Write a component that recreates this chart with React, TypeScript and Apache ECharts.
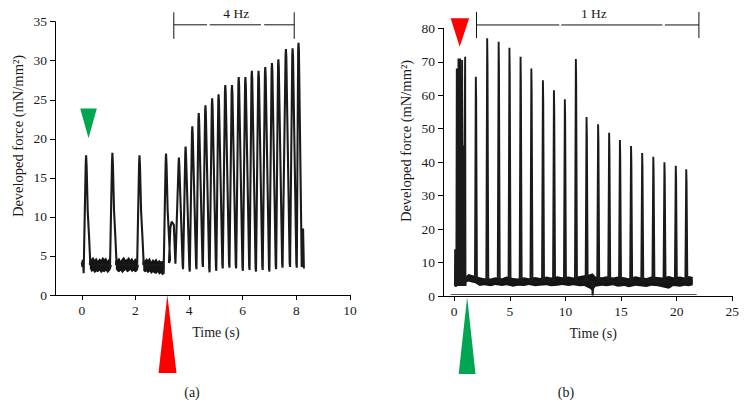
import React, { useEffect, useRef } from "react";
import * as echarts from "echarts";

const FONT = "Liberation Serif";
const TRACE = "#1a1a1a";

// ---------- Panel (a) ----------
const xTicksA = [0, 2, 4, 6, 8, 10];
const startA = [[0.0, 4.2], [0.02, 3.6], [0.03, 4.5], [0.05, 3.9], [0.07, 2.8]];
const twitchA_t = [0.16, 1.14, 2.15, 3.14];
const twitchA_v = [17.9, 18.2, 17.9, 18.1];
const twitchA_base = [3.0, 3.4, 3.3, 2.7];
const bumpA = [[3.25, 4.1], [3.3, 8.6], [3.35, 9.4], [3.43, 9.0], [3.49, 4.0]];
const peaks4_t = [3.62, 3.87, 4.12, 4.36, 4.61, 4.86, 5.1, 5.35, 5.6, 5.85, 6.1, 6.34, 6.59, 6.84, 7.09, 7.33, 7.61, 7.86, 8.08];
const peaks4_v = [17.6, 19.0, 21.6, 23.3, 24.3, 25.2, 25.7, 26.9, 26.9, 27.9, 27.9, 28.7, 28.7, 29.2, 29.7, 30.2, 31.5, 31.6, 32.3];
const troughs4_v = [3.3, 3.0, 3.3, 3.6, 2.9, 3.1, 3.4, 3.5, 3.4, 3.1, 3.2, 3.0, 3.2, 3.0, 3.3, 3.5, 3.6, 3.5];
const tailA = [[8.2, 3.6], [8.25, 8.5], [8.28, 3.4]];
const bandA_t = [
  [0.3, 0.36, 0.42, 0.48, 0.54, 0.6, 0.66, 0.72, 0.78, 0.84, 0.9, 0.96, 1.02, 1.08],
  [1.27, 1.33, 1.39, 1.45, 1.51, 1.57, 1.63, 1.69, 1.75, 1.81, 1.87, 1.93, 1.99, 2.05, 2.09],
  [2.29, 2.35, 2.41, 2.47, 2.53, 2.59, 2.65, 2.71, 2.77, 2.83, 2.89, 2.95, 3.01, 3.06],
];
const bandA_hi = [
  [5.0, 4.6, 4.9, 4.5, 4.8, 4.4, 4.7, 4.5, 4.9, 4.6, 4.8, 4.4, 4.7, 4.9],
  [4.9, 4.5, 4.8, 4.4, 4.7, 4.9, 4.5, 4.6, 4.9, 4.5, 4.8, 4.4, 4.7, 4.5, 4.8],
  [4.8, 4.4, 4.7, 4.5, 4.8, 4.3, 4.6, 4.4, 4.7, 4.3, 4.5, 4.3, 4.4, 4.2],
];
const bandA_lo = [
  [3.4, 2.9, 3.1, 2.8, 3.0, 2.9, 3.1, 2.8, 3.0, 2.9, 3.1, 2.8, 3.0, 3.3],
  [3.3, 3.0, 2.9, 3.1, 2.8, 3.0, 3.2, 2.9, 3.0, 3.2, 2.9, 3.1, 2.9, 3.0, 3.2],
  [3.1, 2.9, 3.0, 2.8, 3.0, 2.7, 2.9, 2.8, 2.7, 2.9, 2.6, 2.8, 2.5, 2.7],
];

// ---------- Panel (b) ----------
const xTicksB = [0, 5, 10, 15, 20, 25];
const burstB = [
  [0.07, 3], [0.09, 14], [0.11, 3], [0.2, 3], [0.24, 68], [0.27, 3], [0.32, 56], [0.35, 3],
  [0.39, 71], [0.42, 3], [0.47, 63], [0.5, 3], [0.54, 71], [0.57, 3], [0.63, 52], [0.66, 3],
  [0.72, 70.5], [0.75, 3], [0.82, 45], [0.85, 3], [0.99, 71.5], [1.02, 3], [1.07, 5.2],
];
const spikeB_t = [1.95, 2.97, 4.0, 4.97, 5.97, 6.94, 7.98, 8.97, 9.95, 10.94, 11.9, 12.94, 13.93, 14.9, 15.9, 16.9, 17.9, 18.9, 19.92, 20.86];
const spikeB_v = [65.5, 77, 76, 74.2, 71.5, 68, 64.5, 61.5, 58.8, 70.8, 53.5, 51.3, 48.8, 46.6, 44.8, 42.7, 41.6, 40.0, 38.9, 37.9];
const extraB = [[1.5, 5.6], [12.38, 4.5], [12.45, 0.2], [12.52, 4.0], [21.45, 4.3]];
const bandB_t = [1.08, 1.3, 1.6, 1.9, 2.3, 2.7, 3.3, 3.7, 4.3, 4.7, 5.3, 5.7, 6.3, 6.7, 7.3, 7.7, 8.3, 8.7, 9.3, 9.7, 10.3, 10.7, 11.3, 11.7, 12.2, 12.45, 12.7, 13.3, 13.7, 14.3, 14.7, 15.3, 15.7, 16.3, 16.7, 17.3, 17.7, 18.3, 18.7, 19.3, 19.7, 20.3, 20.7, 21.1, 21.45];
const bandB_hi = [6.0, 6.6, 6.3, 6.0, 5.6, 5.3, 5.2, 5.6, 5.3, 5.8, 5.4, 5.2, 5.6, 5.3, 5.7, 5.4, 5.8, 5.5, 5.9, 5.6, 5.8, 5.5, 6.0, 6.2, 6.5, 6.8, 5.8, 5.6, 5.9, 5.5, 5.8, 5.6, 5.3, 5.9, 5.6, 5.4, 5.8, 5.7, 5.5, 6.0, 5.6, 5.8, 5.5, 6.0, 5.7];
const bandB_lo = [4.0, 4.3, 4.0, 3.8, 3.0, 3.2, 2.9, 3.3, 3.0, 3.2, 2.8, 3.1, 3.0, 3.3, 2.9, 3.1, 3.2, 2.9, 3.1, 3.3, 3.0, 3.2, 2.9, 3.0, 2.2, 1.5, 2.8, 3.1, 2.9, 3.2, 2.8, 3.0, 2.6, 3.1, 2.9, 2.7, 3.1, 2.9, 2.6, 2.2, 3.0, 2.8, 3.1, 2.9, 3.2];

function buildTraceA(): number[][] {
  const pts: number[][] = [...startA];
  twitchA_t.forEach((tp, i) => {
    const p = twitchA_v[i];
    const b = twitchA_base[i];
    pts.push([tp - 0.09, b], [tp - 0.05, b + 0.5 * (p - b)], [tp - 0.015, p - 1.2], [tp, p], [tp + 0.02, p - 1.5], [tp + 0.06, 0.6 * p], [tp + 0.11, 7.5], [tp + 0.15, 4.5]);
    if (i < 3) {
      const seg = bandA_t[i];
      pts.push([seg[0], 3.9], [seg[seg.length - 1], 3.8]);
    }
  });
  pts.push(...bumpA);
  peaks4_t.forEach((tp, i) => {
    pts.push([tp - 0.012, peaks4_v[i] - 0.8], [tp, peaks4_v[i]], [tp + 0.015, peaks4_v[i] - 1.0]);
    if (i < troughs4_v.length) pts.push([tp + 0.14, troughs4_v[i] + 0.5], [tp + 0.155, troughs4_v[i]]);
  });
  pts.push(...tailA);
  return pts;
}

function buildTraceB(): number[][] {
  const pts: number[][] = [...burstB, ...extraB];
  spikeB_t.forEach((tp, i) => {
    pts.push([tp - 0.08, 4.3], [tp, spikeB_v[i]], [tp + 0.03, spikeB_v[i] * 0.9], [tp + 0.1, 4.3]);
  });
  pts.sort((a, b) => a[0] - b[0]);
  return pts;
}

function bandPolygon(ts: number[], hi: number[], lo: number[], api: any) {
  const pts: number[][] = [];
  for (let k = 0; k < ts.length; k++) pts.push(api.coord([ts[k], hi[k]]));
  for (let k = ts.length - 1; k >= 0; k--) pts.push(api.coord([ts[k], lo[k]]));
  return pts;
}

const axisCommon = {
  axisLine: { show: true, onZero: false, lineStyle: { color: "#000", width: 1 } },
  splitLine: { show: false },
};
const labelStyle = { fontFamily: FONT, fontSize: 13.5, color: "#1a1a1a" };

export default function App() {
  const ref = useRef<HTMLDivElement>(null);
  useEffect(() => {
    const chart = echarts.init(ref.current!, null, { renderer: "svg", width: 746, height: 405 });
    const option: any = {
      animation: false,
      backgroundColor: "#fff",
      grid: [
        { left: 55, top: 21.7, width: 295, height: 273.3 },
        { left: 443, top: 28.3, width: 289.3, height: 267.7 },
      ],
      xAxis: [
        {
          type: "value", gridIndex: 0, min: -1, max: 10, ...axisCommon,
          axisTick: { show: true, length: 5, customValues: xTicksA, lineStyle: { color: "#000" } },
          axisLabel: { ...labelStyle, margin: 8, customValues: xTicksA },
        },
        {
          type: "value", gridIndex: 1, min: -1, max: 25, ...axisCommon,
          axisTick: { show: true, length: 5, customValues: xTicksB, lineStyle: { color: "#000" } },
          axisLabel: { ...labelStyle, margin: 8, customValues: xTicksB },
        },
      ],
      yAxis: [
        {
          type: "value", gridIndex: 0, min: 0, max: 35, interval: 5, ...axisCommon,
          axisTick: { show: true, length: 5, lineStyle: { color: "#000" } },
          axisLabel: { ...labelStyle, margin: 8 },
        },
        {
          type: "value", gridIndex: 1, min: 0, max: 80, interval: 10, ...axisCommon,
          axisTick: { show: true, length: 5, lineStyle: { color: "#000" } },
          axisLabel: { ...labelStyle, margin: 8 },
        },
      ],
      series: [
        {
          type: "custom", xAxisIndex: 0, yAxisIndex: 0,
          data: bandA_t.map((ts, i) => [ts[0], bandA_lo[i][0]]),
          renderItem: (params: any, api: any) => ({
            type: "polygon",
            shape: { points: bandPolygon(bandA_t[params.dataIndex], bandA_hi[params.dataIndex], bandA_lo[params.dataIndex], api) },
            style: { fill: "#141414" },
          }),
          silent: true,
        },
        {
          type: "line", xAxisIndex: 0, yAxisIndex: 0, data: buildTraceA(), symbol: "none",
          lineStyle: { color: TRACE, width: 2.1 }, silent: true,
        },
        {
          type: "custom", xAxisIndex: 1, yAxisIndex: 1,
          data: [[bandB_t[0], bandB_lo[0]]],
          renderItem: (params: any, api: any) => ({
            type: "polygon",
            shape: { points: bandPolygon(bandB_t, bandB_hi, bandB_lo, api) },
            style: { fill: "#141414" },
          }),
          silent: true,
        },
        {
          type: "line", xAxisIndex: 1, yAxisIndex: 1, data: buildTraceB(), symbol: "none", clip: false,
          lineStyle: { color: TRACE, width: 1.9 }, silent: true,
        },
      ],
    };
    chart.setOption(option);

    const P = (g: number, x: number, y: number) => chart.convertToPixel({ gridIndex: g } as any, [x, y]) as number[];
    const lineEl = (a: number[], b: number[], w = 1, color = "#111") => ({
      type: "line", shape: { x1: a[0], y1: a[1], x2: b[0], y2: b[1] }, style: { stroke: color, lineWidth: w }, silent: true,
    });
    const tri = (g: number, pts: number[][], fill: string) => ({
      type: "polygon", shape: { points: pts.map((p) => P(g, p[0], p[1])) }, style: { fill }, silent: true,
    });
    const text = (x: number, y: number, s: string, size = 14, rotation = 0) => ({
      type: "text", x, y, rotation,
      style: { text: s, fontFamily: FONT, fontSize: size, fill: "#1a1a1a", align: "center", verticalAlign: "middle" },
      silent: true,
    });

    const gfx: any[] = [];
    // 4 Hz bracket (a)
    const segA = [[3.43, 4.67], [4.77, 6.68], [6.8, 7.92]];
    segA.forEach((s) => gfx.push(lineEl(P(0, s[0], 34.6), P(0, s[1], 34.6))));
    gfx.push(lineEl(P(0, 3.43, 36.2), P(0, 3.43, 32.8)));
    gfx.push(lineEl(P(0, 7.92, 36.2), P(0, 7.92, 32.8)));
    const tA = P(0, 5.76, 36.0);
    gfx.push(text(tA[0], tA[1], "4 Hz", 13.5));
    // 1 Hz bracket (b)
    const segB = [[2.01, 9.45], [9.63, 18.72], [18.94, 22.0]];
    segB.forEach((s) => gfx.push(lineEl(P(1, s[0], 81.0), P(1, s[1], 81.0))));
    gfx.push(lineEl(P(1, 2.01, 84.9), P(1, 2.01, 77.1)));
    gfx.push(lineEl(P(1, 22.0, 84.9), P(1, 22.0, 77.1)));
    const tB = P(1, 12.56, 84.3);
    gfx.push(text(tB[0], tB[1], "1 Hz", 13.5));
    // frame line under trace (b)
    const f1 = P(1, -0.3, 0), f2 = P(1, 21.8, 0);
    gfx.push(lineEl([f1[0], f1[1] - 1.5], [f2[0], f2[1] - 1.5], 1, "#555"));
    // triangles
    gfx.push(tri(0, [[-0.06, 23.9], [0.56, 23.9], [0.25, 20.07]], "#00a651"));
    gfx.push(tri(0, [[2.86, -10.0], [3.53, -10.0], [3.19, 0]], "#ff0000"));
    gfx.push(tri(1, [[-0.31, 83.0], [1.35, 83.0], [0.5, 74.5]], "#ff0000"));
    gfx.push(tri(1, [[0.41, -23.3], [1.92, -23.3], [1.17, -0.3]], "#00a651"));
    // axis names
    const xa = P(0, 5, 0), xb = P(1, 12.5, 0);
    gfx.push(text(xa[0], 332, "Time (s)"));
    gfx.push(text(xb[0], 333, "Time (s)"));
    gfx.push(text(18, 136, "Developed force (mN/mm²)", 14.5, Math.PI / 2));
    gfx.push(text(406, 141, "Developed force (mN/mm²)", 14.5, Math.PI / 2));
    // panel labels
    gfx.push(text(192, 392, "(a)"));
    gfx.push(text(566, 392, "(b)"));

    chart.setOption({ graphic: gfx });
    return () => chart.dispose();
  }, []);
  return <div ref={ref} style={{ position: "fixed", left: 0, top: 0, width: 746, height: 405, background: "#fff" }} />;
}
